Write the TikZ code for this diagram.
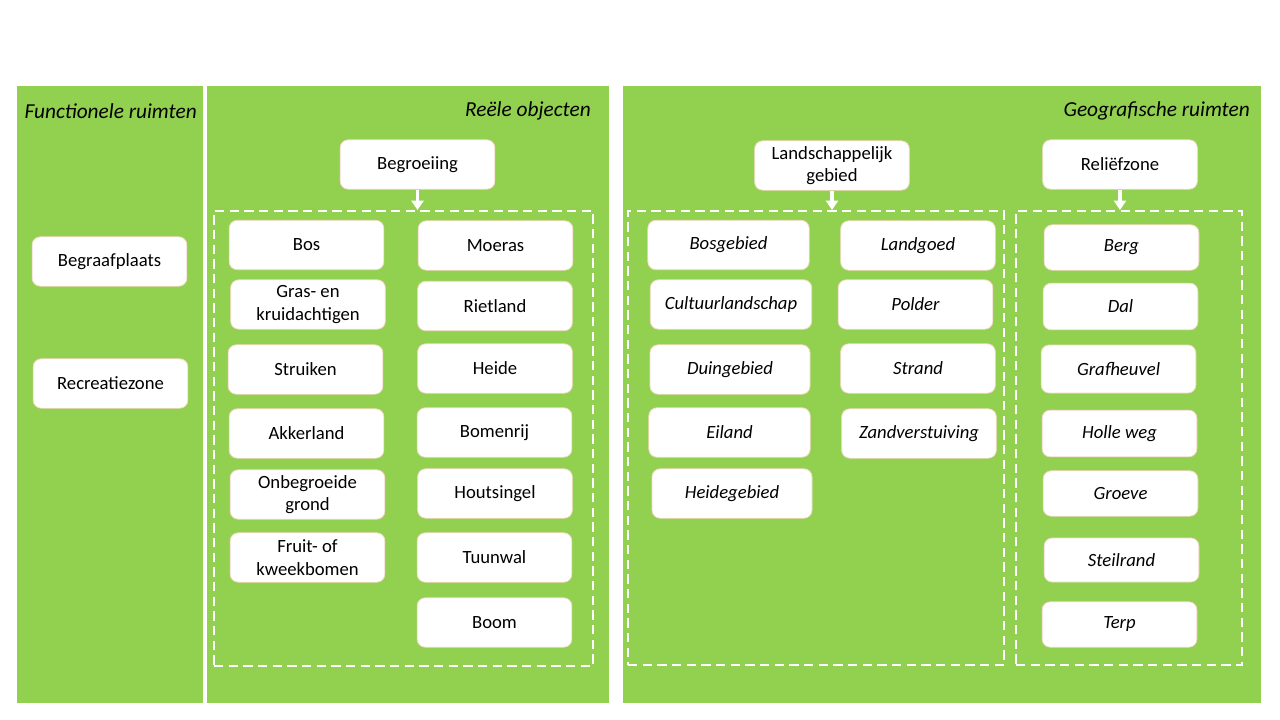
\documentclass[tikz,border=0pt]{standalone}
\usepackage{fontspec}
\setmainfont{Carlito}
\usepackage{tikz}
\usetikzlibrary{positioning,calc,arrows.meta}
\definecolor{groen}{HTML}{92D050}
\definecolor{rand}{HTML}{F4D9C8}
\tikzset{
	blok/.style={rectangle, rounded corners=6pt, draw=rand, line width=0.6pt, fill=white,
		minimum width=116pt, minimum height=37pt, align=center, font=\fontsize{14}{17}\selectfont, inner sep=1pt},
	blokit/.style={blok, font=\fontsize{14}{17}\selectfont\itshape},
	kop/.style={anchor=east, font=\fontsize{16}{18}\selectfont\itshape, inner sep=0pt},
	vak/.style={rectangle, draw=white, dash pattern=on 7pt off 4pt, line width=1.5pt, inner sep=0pt},
	pijl/.style={draw=white, line width=2.6pt, -{Triangle[length=7pt,width=9pt]}},
}
\begin{document}
\begin{tikzpicture}[x=0.75pt,y=-0.75pt]
			\useasboundingbox (0,0) rectangle (1280,720);
			% panelen
			\fill[groen] (17,86) rectangle (203,703);
			\fill[groen] (207,86) rectangle (609,703);
			\fill[groen] (623,86) rectangle (1261,703);
			\node[kop] (kfunc) at (197,111) {Functionele ruimten};
			\node[kop] (kreeel) at (591,111) {Reële objecten};
			\node[kop] (kgeo) at (1250,111) {Geografische ruimten};
			% functionele ruimten
			\node[blok] (begraaf) at (109.5,261.5) {Begraafplaats};
			\node[blok] (recreatie) at (110.5,383.5) {Recreatiezone};
			% reele objecten
			\node[blok] (begroeiing) at (417.5,164.5) {Begroeiing};
			\node[vak, minimum width=284.25pt, minimum height=341.25pt] (vakbeg) at (403.5,438.5) {};
			\draw[pijl] (begroeiing.south) -- (begroeiing.south |- vakbeg.north);
			\node[blok] (bos) at (306.5,245) {Bos};
			\node[blok] (gras) at (308,304.5) {Gras- en\\kruidachtigen};
			\node[blok] (struiken) at (305.5,369.5) {Struiken};
			\node[blok] (akker) at (306.5,433.5) {Akkerland};
			\node[blok] (onbegr) at (307.5,494.5) {Onbegroeide\\grond};
			\node[blok] (fruit) at (307.5,557.5) {Fruit- of\\kweekbomen};
			\node[blok] (moeras) at (495.5,245.5) {Moeras};
			\node[blok] (riet) at (495,306) {Rietland};
			\node[blok] (heide) at (495,368.5) {Heide};
			\node[blok] (bomenrij) at (494.5,432.5) {Bomenrij};
			\node[blok] (houtsingel) at (495,493.5) {Houtsingel};
			\node[blok] (tuunwal) at (494.5,557.5) {Tuunwal};
			\node[blok] (boom) at (494.5,622.5) {Boom};
			% geografische ruimten
			\node[blok] (landsch) at (832,165.5) {Landschappelijk\\gebied};
			\node[blok] (relief) at (1120,164.5) {Reliëfzone};
			\node[vak, minimum width=282pt, minimum height=340.5pt] (vaklan) at (816,438) {};
			\node[vak, minimum width=169.5pt, minimum height=340.5pt] (vakrel) at (1129,438) {};
			\draw[pijl] (landsch.south) -- (landsch.south |- vaklan.north);
			\draw[pijl] (relief.south) -- (relief.south |- vakrel.north);
			\node[blokit, minimum width=121pt] (bosgeb) at (728.5,245) {Bosgebied};
			\node[blokit, minimum width=121pt] (cultuur) at (731,304.5) {Cultuurlandschap};
			\node[blokit, minimum width=120pt] (duin) at (730,369.5) {Duingebied};
			\node[blokit, minimum width=121pt] (eiland) at (729.5,432.5) {Eiland};
			\node[blokit, minimum width=120pt] (heidegeb) at (732,493.5) {Heidegebied};
			\node[blokit] (landgoed) at (918,245.5) {Landgoed};
			\node[blokit] (polder) at (915.5,304.5) {Polder};
			\node[blokit] (strand) at (918,368.5) {Strand};
			\node[blokit] (zand) at (919,433.5) {Zandverstuiving};
			\node[blokit, minimum height=34pt] (berg) at (1121.5,247.5) {Berg};
			\node[blokit, minimum height=35pt] (dal) at (1120.5,306.5) {Dal};
			\node[blokit, minimum height=36pt] (grafh) at (1118.5,369) {Grafheuvel};
			\node[blokit, minimum height=35pt] (holle) at (1119.5,433.5) {Holle weg};
			\node[blokit, minimum height=34pt] (groeve) at (1120.5,493.5) {Groeve};
			\node[blokit, minimum height=33pt] (steil) at (1121.5,560) {Steilrand};
			\node[blokit, minimum height=34pt] (terp) at (1119.5,624.5) {Terp};
\end{tikzpicture}
\end{document}
